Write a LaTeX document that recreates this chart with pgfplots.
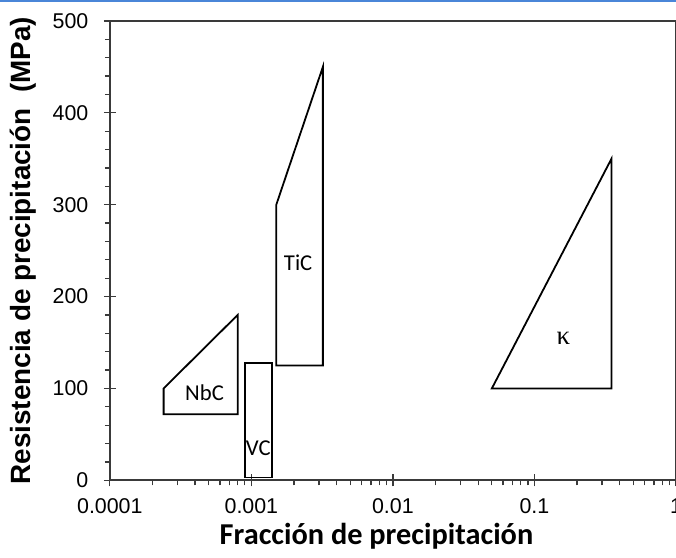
\documentclass[border=0pt]{standalone}
\usepackage{fontspec}
\setmainfont{Liberation Sans}
\newfontfamily\calibri{Carlito}
\newfontfamily\greekserif{Liberation Serif}
\usepackage{pgfplots}
\pgfplotsset{compat=1.18}
\definecolor{axisgray}{HTML}{3A3A3A}
\definecolor{slideblue}{HTML}{4A86D8}
\newcommand{\tl}{\fontsize{21.5}{21.5}\selectfont}

\begin{document}
\begin{tikzpicture}
\begin{axis}[
  scale only axis, width=567bp, height=460bp,
  xmode=log, log basis x=10,
  xmin=1e-4, xmax=1, ymin=0, ymax=500,
  xtick={1e-4,1e-3,1e-2,1e-1,1},
  xticklabels={{\tl 0.0001},{\tl 0.001},{\tl 0.01},{\tl 0.1},{\tl 1}},
  minor xtick={2e-4,3e-4,4e-4,5e-4,6e-4,7e-4,8e-4,9e-4,
               2e-3,3e-3,4e-3,5e-3,6e-3,7e-3,8e-3,9e-3,
               2e-2,3e-2,4e-2,5e-2,6e-2,7e-2,8e-2,9e-2,
               0.2,0.3,0.4,0.5,0.6,0.7,0.8,0.9},
  ytick={0,100,200,300,400,500},
  yticklabels={{\tl 0},{\tl 100},{\tl 200},{\tl 300},{\tl 400},{\tl 500}},
  minor ytick={20,40,60,80,120,140,160,180,220,240,260,280,
               320,340,360,380,420,440,460,480},
  xtick pos=bottom, ytick pos=left,
  tick align=outside,
  major tick length=12bp, minor tick length=5bp,
  every major x tick/.append style={yshift=6bp},
  every major y tick/.append style={xshift=6bp},
  tick style={axisgray, line width=1.2bp},
  axis line style={axisgray, line width=1.8bp},
  xticklabel style={yshift=-2.5bp},
  yticklabel style={xshift=-6bp},
  xlabel={\calibri\bfseries Fracción de precipitación},
  xlabel style={font=\fontsize{30.5}{30.5}\selectfont, at={(axis description cs:0.471,-0.122)}, anchor=center},
  ylabel={\bfseries Resistencia de precipitación\ \ (MPa)},
  ylabel style={font=\fontsize{28}{28}\selectfont, at={(axis description cs:-0.1534,0.5)}, anchor=center, rotate=0},
  clip=false,
]
% NbC
\addplot[black, line width=1.8bp, line join=miter] coordinates {
  (0.00024,72) (0.0008,72) (0.0008,180) (0.00024,100)} -- cycle;
% VC
\addplot[black, line width=1.8bp, line join=miter] coordinates {
  (0.0009,3) (0.0014,3) (0.0014,128) (0.0009,128)} -- cycle;
% TiC
\addplot[black, line width=1.8bp, line join=miter] coordinates {
  (0.0015,125) (0.0032,125) (0.0032,450) (0.0015,300)} -- cycle;
% kappa carbide
\addplot[black, line width=1.8bp, line join=miter] coordinates {
  (0.05,100) (0.35,100) (0.35,350)} -- cycle;

\node[font=\calibri\fontsize{22.8}{22.8}\selectfont] at (axis cs:0.000467,95.6) {NbC};
\node[font=\calibri\fontsize{22.8}{22.8}\selectfont] at (axis cs:0.00112,34.8) {VC};
\node[font=\calibri\fontsize{22.8}{22.8}\selectfont] at (axis cs:0.00214,237) {TiC};
\node[font=\greekserif\fontsize{27}{27}\selectfont] at (axis cs:0.16,154) {κ};

\coordinate (bl) at (rel axis cs:0,0);
\coordinate (tr) at (rel axis cs:1,1);
\end{axis}
\pgfresetboundingbox
\path[use as bounding box] ([xshift=-110bp,yshift=-77bp]bl) rectangle ([yshift=21bp]tr);
\draw[slideblue, line width=2.6bp] ([xshift=-110bp,yshift=20bp]bl |- tr) -- ([yshift=20bp]tr);
\end{tikzpicture}
\end{document}
